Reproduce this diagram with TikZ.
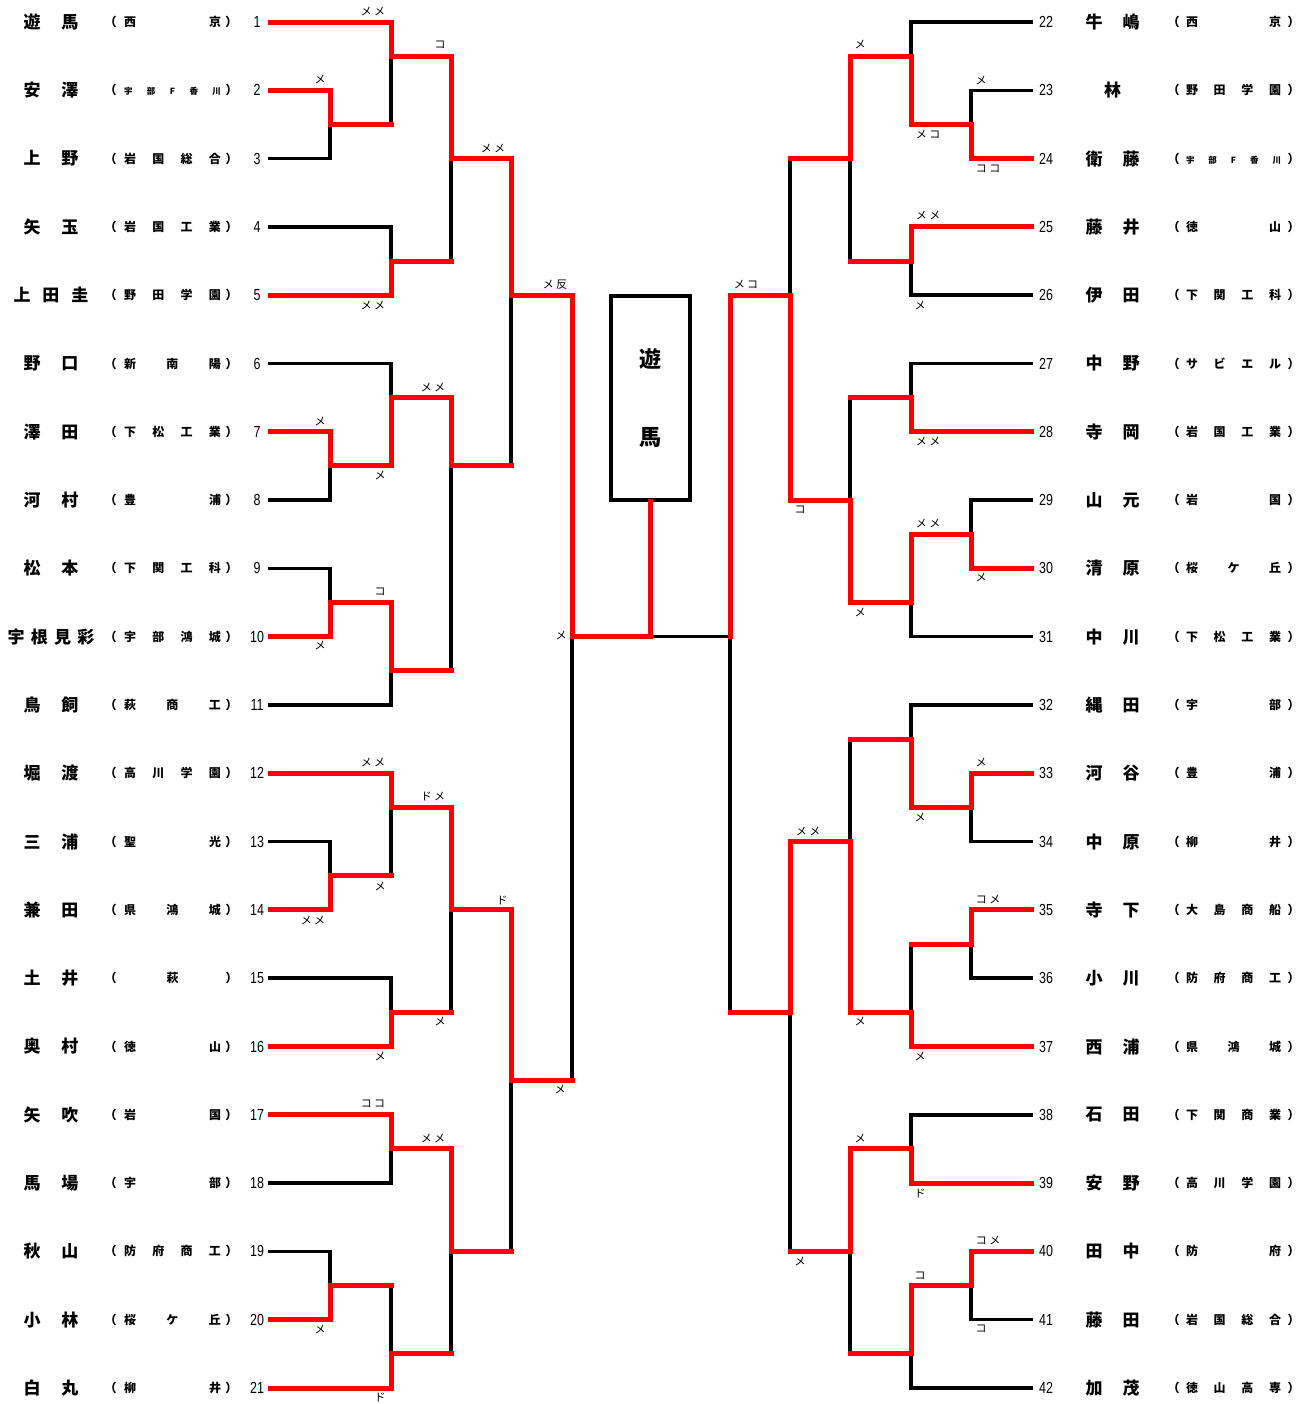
\documentclass[tikz,border=0pt]{standalone}
\usepackage{fontspec}
\setmainfont{Noto Sans CJK JP}
\newfontfamily\jp{Noto Sans CJK JP}
\newfontfamily\numfont{Liberation Sans}
\newcommand\fsc{\fontsize{8.5}{8.5}\selectfont}

\begin{document}
\begin{tikzpicture}[x=1pt, y=-34.15pt,
  nm/.style={font=\jp\bfseries\fontsize{17}{17}\selectfont, inner sep=0pt},
  sc/.style={font=\jp\bfseries\fontsize{12}{12}\selectfont, inner sep=0pt},
  no/.style={font=\numfont\fontsize{16}{16}\selectfont, inner sep=0pt},
  res/.style={font=\jp\fontsize{11}{11}\selectfont, inner sep=0pt},
  lo/.style={line width=3.5pt, line cap=rect},
  wi/.style={red, line width=5pt, line cap=rect}]
  \useasboundingbox (0,-0.6442) rectangle (1309,40.468);

  \foreach \nm/\w/\sc [count=\i, evaluate=\i as \h using 2*\i-2] in {
    {遊\hfill 馬}/55/{西\hfill 京}, {安\hfill 澤}/55/{\fsc 宇\hfill 部\hfill F\hfill 香\hfill 川},
    {上\hfill 野}/55/{岩\hfill 国\hfill 総\hfill 合}, {矢\hfill 玉}/55/{岩\hfill 国\hfill 工\hfill 業},
    {上\hfill 田\hfill 圭}/75/{野\hfill 田\hfill 学\hfill 園}, {野\hfill 口}/55/{新\hfill 南\hfill 陽},
    {澤\hfill 田}/55/{下\hfill 松\hfill 工\hfill 業}, {河\hfill 村}/55/{豊\hfill 浦},
    {松\hfill 本}/55/{下\hfill 関\hfill 工\hfill 科}, {宇\hfill 根\hfill 見\hfill 彩}/87/{宇\hfill 部\hfill 鴻\hfill 城},
    {鳥\hfill 飼}/55/{萩\hfill 商\hfill 工}, {堀\hfill 渡}/55/{高\hfill 川\hfill 学\hfill 園},
    {三\hfill 浦}/55/{聖\hfill 光}, {兼\hfill 田}/55/{県\hfill 鴻\hfill 城},
    {土\hfill 井}/55/{\hfill 萩\hfill}, {奥\hfill 村}/55/{徳\hfill 山},
    {矢\hfill 吹}/55/{岩\hfill 国}, {馬\hfill 場}/55/{宇\hfill 部},
    {秋\hfill 山}/55/{防\hfill 府\hfill 商\hfill 工}, {小\hfill 林}/55/{桜\hfill ケ\hfill 丘},
    {白\hfill 丸}/55/{柳\hfill 井}}
  {
    \node[nm] (nm\i) at (51,\h) {\makebox[\w pt][s]{\nm}};
    \node[sc] (sc\i) at (171,\h) {（\hspace{7.5pt}\makebox[97pt][s]{\sc}\hspace{4.5pt}）};
    \node[no] (no\i) at (257,\h) {\scalebox{0.78}[1]{\i}};
  }
  \foreach \nm/\sc [count=\i from 22, evaluate=\i as \h using 2*\i-44] in {
    {牛\hfill 嶋}/{西\hfill 京}, {\hfill 林\hfill}/{野\hfill 田\hfill 学\hfill 園},
    {衛\hfill 藤}/{\fsc 宇\hfill 部\hfill F\hfill 香\hfill 川}, {藤\hfill 井}/{徳\hfill 山},
    {伊\hfill 田}/{下\hfill 関\hfill 工\hfill 科}, {中\hfill 野}/{サ\hfill ビ\hfill エ\hfill ル},
    {寺\hfill 岡}/{岩\hfill 国\hfill 工\hfill 業}, {山\hfill 元}/{岩\hfill 国},
    {清\hfill 原}/{桜\hfill ケ\hfill 丘}, {中\hfill 川}/{下\hfill 松\hfill 工\hfill 業},
    {縄\hfill 田}/{宇\hfill 部}, {河\hfill 谷}/{豊\hfill 浦},
    {中\hfill 原}/{柳\hfill 井}, {寺\hfill 下}/{大\hfill 島\hfill 商\hfill 船},
    {小\hfill 川}/{防\hfill 府\hfill 商\hfill 工}, {西\hfill 浦}/{県\hfill 鴻\hfill 城},
    {石\hfill 田}/{下\hfill 関\hfill 商\hfill 業}, {安\hfill 野}/{高\hfill 川\hfill 学\hfill 園},
    {田\hfill 中}/{防\hfill 府}, {藤\hfill 田}/{岩\hfill 国\hfill 総\hfill 合},
    {加\hfill 茂}/{徳\hfill 山\hfill 高\hfill 専}}
  {
    \node[no] (no\i) at (1046,\h) {\scalebox{0.78}[1]{\i}};
    \node[nm] (nm\i) at (1112.5,\h) {\makebox[54pt][s]{\nm}};
    \node[sc] (sc\i) at (1233.5,\h) {（\hspace{6.5pt}\makebox[95pt][s]{\sc}\hspace{6.5pt}）};
  }

  \foreach \r/\x in {0/391, 2/330, 4/330, 6/391, 8/391, 10/391, 12/330, 14/330, 16/330, 18/330,
    20/391, 22/391, 24/330, 26/330, 28/391, 30/391, 32/391, 34/391, 36/330, 38/330, 40/391}
    \draw[lo] (270,\r) -- (\x,\r);
  \foreach \r/\x in {0/911, 2/971, 4/971, 6/911, 8/911, 10/911, 12/911, 14/971, 16/971, 18/911,
    20/911, 22/971, 24/971, 26/971, 28/971, 30/911, 32/911, 34/911, 36/971, 38/971, 40/911}
    \draw[lo] (1031,\r) -- (\x,\r);
  \foreach \x/\a/\b/\j/\n in {330/2/4/3/391, 391/0/3/1/451, 391/6/8/7/451, 451/1/7/4/511,
    330/12/14/13/391, 391/10/13/11/451, 330/16/18/17/391, 391/17/20/19/451, 451/11/19/13/511,
    511/4/13/8/572, 330/24/26/25/391, 391/22/25/23/451, 391/28/30/29/451, 451/23/29/26/511,
    391/32/34/33/451, 330/36/38/37/391, 391/37/40/39/451, 451/33/39/36/511, 511/26/36/31/572,
    572/8/31/18/651,
    971/2/4/3/911, 911/0/3/1/850, 911/6/8/7/850, 850/1/7/4/790, 911/10/12/11/850,
    971/14/16/15/911, 911/15/18/17/850, 850/11/17/14/790, 790/4/14/8/730, 971/22/24/23/911,
    911/20/23/21/850, 971/26/28/27/911, 911/27/30/29/850, 850/21/29/24/790, 911/32/34/33/850,
    971/36/38/37/911, 911/37/40/39/850, 850/33/39/36/790, 790/24/36/29/730, 730/8/29/18/651}
  {
    \draw[lo] (\x,\a) -- (\x,\b);
    \draw[lo] (\x,\j) -- (\n,\j);
  }

  \node[draw, line width=3.5pt, minimum width=79pt, minimum height=204pt, inner sep=0pt,
    align=center, font=\jp\bfseries\fontsize{22}{78}\selectfont] (champ) at (650.5,11.01) {遊\\馬};

  \draw[wi] (270,0) -| (391,1) -| (451,4) -| (511,8) -| (572,18) -| (champ.south);
  \draw[wi] (270,2) -| (330,3) -- (391,3);
  \draw[wi] (270,8) -| (391,7) -- (451,7);
  \draw[wi] (270,12) -| (330,13) -| (391,11) -| (451,13) -- (511,13);
  \draw[wi] (270,18) -| (330,17) -| (391,19) -- (451,19);
  \draw[wi] (270,22) -| (391,23) -| (451,26) -| (511,31) -- (572,31);
  \draw[wi] (270,26) -| (330,25) -- (391,25);
  \draw[wi] (270,30) -| (391,29) -- (451,29);
  \draw[wi] (270,32) -| (391,33) -| (451,36) -- (511,36);
  \draw[wi] (270,38) -| (330,37) -- (391,37);
  \draw[wi] (270,40) -| (391,39) -- (451,39);

  \draw[wi] (1031,4) -| (971,3) -| (911,1) -| (850,4) -- (790,4);
  \draw[wi] (1031,6) -| (911,7) -- (850,7);
  \draw[wi] (1031,12) -| (911,11) -- (850,11);
  \draw[wi] (1031,16) -| (971,15) -| (911,17) -| (850,14) -| (790,8) -| (730,18);
  \draw[wi] (1031,22) -| (971,23) -| (911,21) -- (850,21);
  \draw[wi] (1031,26) -| (971,27) -- (911,27);
  \draw[wi] (1031,30) -| (911,29) -| (850,24) -| (790,29) -- (730,29);
  \draw[wi] (1031,34) -| (911,33) -| (850,36) -- (790,36);
  \draw[wi] (1031,36) -| (971,37) -| (911,39) -- (850,39);

  \foreach \x/\h/\t [count=\k] in {373/-0.32/メ メ, 320/1.67/メ, 440/0.67/コ, 493/3.69/メ メ,
    373/8.29/メ メ, 555/7.70/メ 反, 320/11.71/メ, 433/10.69/メ メ, 380/13.29/メ, 380/16.69/コ,
    320/18.27/メ, 561/17.97/メ, 373/21.67/メ メ, 433/22.69/ド メ, 380/25.30/メ, 313/26.30/メ メ,
    502/25.71/ド, 440/29.28/メ, 380/30.28/メ, 560/31.27/メ, 373/31.68/コ コ, 433/32.68/メ メ,
    320/38.30/メ, 380/40.29/ド,
    860/0.67/メ, 981/1.70/メ, 928/3.28/メ コ, 988/4.30/コ コ, 928/5.68/メ メ, 746/7.70/メ コ,
    920/8.29/メ, 928/12.27/メ メ, 800/14.29/コ, 928/14.67/メ メ, 981/16.28/メ, 860/17.28/メ,
    981/21.67/メ, 920/23.28/メ, 808/23.69/メ メ, 988/25.68/コ メ, 860/29.28/メ, 920/30.28/メ,
    860/32.68/メ, 920/34.29/ド, 988/35.67/コ メ, 800/36.28/メ, 920/36.72/コ, 981/38.27/コ}
    \node[res] (res\k) at (\x,\h) {\t};
\end{tikzpicture}
\end{document}
